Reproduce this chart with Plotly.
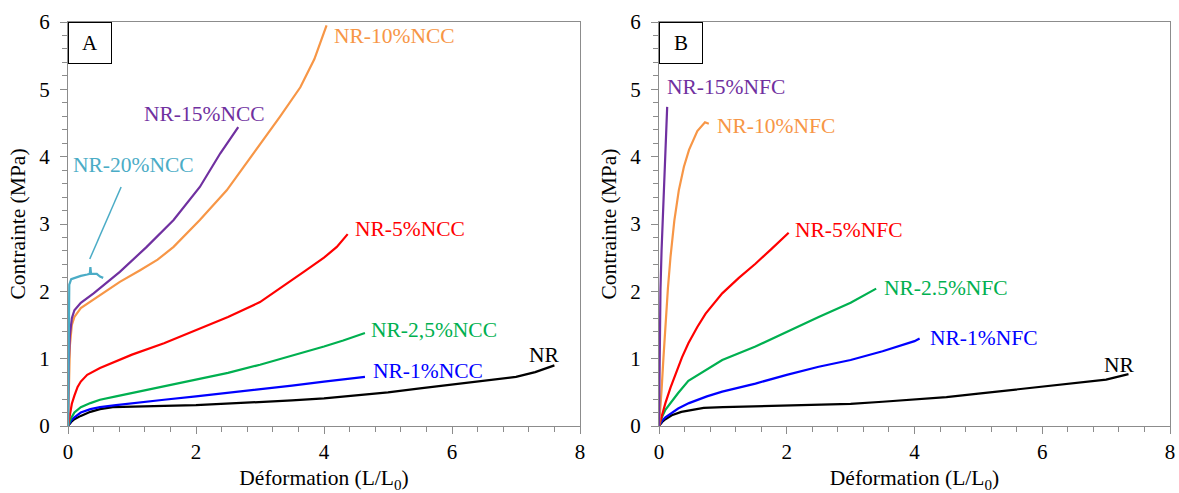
import plotly.graph_objects as go

FONT = "Liberation Serif, Times New Roman, DejaVu Serif, serif"

# ---------------- Panel A (NCC) ----------------
A_NR_x = [0, 0.05, 0.1, 0.2, 0.35, 0.5, 0.7, 1.0, 1.5, 2.0, 2.5, 3.0, 3.5, 4.0, 4.5, 5.0, 5.5, 6.0, 6.5, 7.0, 7.3, 7.6]
A_NR_y = [0, 0.06, 0.1, 0.15, 0.21, 0.25, 0.28, 0.29, 0.3, 0.31, 0.33, 0.35, 0.38, 0.41, 0.45, 0.5, 0.56, 0.62, 0.67, 0.73, 0.8, 0.9]

A_1_x = [0, 0.05, 0.1, 0.2, 0.35, 0.5, 0.75, 1.0, 1.5, 2.0, 2.5, 3.0, 3.5, 4.0, 4.3, 4.64]
A_1_y = [0, 0.08, 0.13, 0.2, 0.25, 0.28, 0.31, 0.34, 0.39, 0.44, 0.49, 0.54, 0.6, 0.66, 0.69, 0.73]

A_25_x = [0, 0.05, 0.1, 0.2, 0.35, 0.5, 0.75, 1.0, 1.5, 2.0, 2.5, 3.0, 3.5, 4.0, 4.3, 4.64]
A_25_y = [0, 0.12, 0.2, 0.28, 0.34, 0.39, 0.44, 0.49, 0.58, 0.68, 0.79, 0.91, 1.04, 1.18, 1.27, 1.38]

A_5_x = [0, 0.03, 0.06, 0.1, 0.15, 0.2, 0.3, 0.5, 0.75, 1.0, 1.5, 2.0, 2.5, 3.0, 3.36, 3.7, 4.0, 4.2, 4.37]
A_5_y = [0, 0.2, 0.33, 0.45, 0.58, 0.66, 0.76, 0.86, 0.96, 1.06, 1.23, 1.42, 1.62, 1.84, 2.07, 2.3, 2.5, 2.66, 2.85]

A_10_x = [0, 0.01, 0.03, 0.06, 0.1, 0.2, 0.4, 0.6, 0.81, 1.12, 1.4, 1.65, 2.06, 2.48, 2.9, 3.31, 3.63, 3.85, 4.04]
A_10_y = [0, 0.6, 1.2, 1.5, 1.62, 1.75, 1.88, 2.0, 2.14, 2.31, 2.47, 2.66, 3.06, 3.5, 4.05, 4.59, 5.03, 5.45, 5.95]

A_15_x = [0, 0.01, 0.03, 0.06, 0.1, 0.2, 0.4, 0.6, 0.81, 1.23, 1.65, 2.06, 2.38, 2.66]
A_15_y = [0, 0.9, 1.35, 1.6, 1.72, 1.83, 1.97, 2.12, 2.29, 2.66, 3.06, 3.55, 4.05, 4.44]

A_20_x = [0, 0.01, 0.02, 0.05, 0.1, 0.2, 0.3, 0.34, 0.35, 0.36, 0.45, 0.5, 0.55]
A_20_y = [0, 1.2, 2.1, 2.18, 2.2, 2.23, 2.25, 2.26, 2.36, 2.26, 2.26, 2.22, 2.2]

A_20_leader_x = [0.34, 0.83]
A_20_leader_y = [2.48, 3.55]

# ---------------- Panel B (NFC) ----------------
B_NR_x = [0, 0.05, 0.1, 0.2, 0.35, 0.5, 0.7, 1.0, 1.5, 2.0, 2.5, 3.0, 3.5, 4.0, 4.5, 5.0, 5.5, 6.0, 6.5, 7.0, 7.35]
B_NR_y = [0, 0.06, 0.1, 0.16, 0.21, 0.24, 0.27, 0.28, 0.29, 0.3, 0.31, 0.33, 0.36, 0.39, 0.43, 0.48, 0.53, 0.59, 0.64, 0.69, 0.77]

B_1_x = [0, 0.05, 0.1, 0.2, 0.3, 0.47, 0.75, 0.99, 1.51, 2.0, 2.29, 2.5, 3.0, 3.5, 4.0, 4.08]
B_1_y = [0, 0.08, 0.13, 0.2, 0.26, 0.34, 0.44, 0.51, 0.63, 0.76, 0.83, 0.88, 0.98, 1.11, 1.26, 1.3]

B_25_x = [0, 0.05, 0.1, 0.2, 0.3, 0.46, 0.75, 0.99, 1.51, 2.0, 2.29, 2.5, 3.0, 3.4]
B_25_y = [0, 0.14, 0.24, 0.37, 0.49, 0.67, 0.84, 0.98, 1.18, 1.4, 1.52, 1.62, 1.83, 2.04]

B_5_x = [0, 0.05, 0.1, 0.18, 0.26, 0.36, 0.46, 0.6, 0.73, 0.99, 1.25, 1.51, 1.75, 2.03]
B_5_y = [0, 0.17, 0.34, 0.57, 0.78, 1.02, 1.23, 1.47, 1.67, 1.97, 2.2, 2.41, 2.62, 2.87]

B_10_x = [0, 0.02, 0.04, 0.07, 0.1, 0.14, 0.18, 0.24, 0.31, 0.39, 0.47, 0.6, 0.72, 0.78]
B_10_y = [0, 0.25, 0.53, 1.02, 1.52, 2.05, 2.51, 3.05, 3.5, 3.85, 4.1, 4.38, 4.51, 4.49]

B_15_x = [0, 0.004, 0.008, 0.015, 0.023, 0.04, 0.06, 0.075, 0.1, 0.12, 0.128]
B_15_y = [0, 0.5, 1.03, 1.55, 2.02, 2.6, 3.1, 3.5, 4.1, 4.58, 4.74]

# colours
C_NR = "#000000"
C_1 = "#0000FF"
C_25 = "#00B050"
C_5 = "#FF0000"
C_10 = "#F79646"
C_15 = "#7030A0"
C_20 = "#4BACC6"

fig = go.Figure()

def line(x, y, color, xa, ya, w=2.2):
    fig.add_trace(go.Scatter(x=x, y=y, mode="lines", line=dict(color=color, width=w),
                             xaxis=xa, yaxis=ya, showlegend=False, hoverinfo="skip"))

line(A_NR_x, A_NR_y, C_NR, "x", "y")
line(A_1_x, A_1_y, C_1, "x", "y")
line(A_25_x, A_25_y, C_25, "x", "y")
line(A_5_x, A_5_y, C_5, "x", "y")
line(A_10_x, A_10_y, C_10, "x", "y")
line(A_15_x, A_15_y, C_15, "x", "y")
line(A_20_x, A_20_y, C_20, "x", "y")
line(A_20_leader_x, A_20_leader_y, C_20, "x", "y", w=1.5)

line(B_NR_x, B_NR_y, C_NR, "x2", "y2")
line(B_1_x, B_1_y, C_1, "x2", "y2")
line(B_25_x, B_25_y, C_25, "x2", "y2")
line(B_5_x, B_5_y, C_5, "x2", "y2")
line(B_10_x, B_10_y, C_10, "x2", "y2")
line(B_15_x, B_15_y, C_15, "x2", "y2")

LBL = 21.5
labels = [
    ("x", "y", 4.12, 5.79, "NR-10%NCC", C_10),
    ("x", "y", 1.15, 4.64, "NR-15%NCC", C_15),
    ("x", "y", 0.05, 3.87, "NR-20%NCC", C_20),
    ("x", "y", 4.46, 2.92, "NR-5%NCC", C_5),
    ("x", "y", 4.70, 1.42, "NR-2,5%NCC", C_25),
    ("x", "y", 4.73, 0.82, "NR-1%NCC", C_1),
    ("x", "y", 7.17, 1.05, "NR", C_NR),
    ("x2", "y2", 0.10, 5.03, "NR-15%NFC", C_15),
    ("x2", "y2", 0.88, 4.45, "NR-10%NFC", C_10),
    ("x2", "y2", 2.10, 2.91, "NR-5%NFC", C_5),
    ("x2", "y2", 3.49, 2.05, "NR-2.5%NFC", C_25),
    ("x2", "y2", 4.21, 1.31, "NR-1%NFC", C_1),
    ("x2", "y2", 6.94, 0.90, "NR", C_NR),
]
for xr, yr, x, y, t, c in labels:
    fig.add_annotation(xref=xr, yref=yr, x=x, y=y, text=t, showarrow=False,
                       xanchor="left", yanchor="middle",
                       font=dict(family=FONT, size=LBL, color=c))

for xr, yr, t in [("x", "y", "A"), ("x2", "y2", "B")]:
    fig.add_annotation(xref=xr, yref=yr, x=0, y=6, text=t, showarrow=False,
                       xanchor="left", yanchor="top", width=40, height=38,
                       bordercolor="#000000", borderwidth=1, bgcolor="#FFFFFF",
                       font=dict(family=FONT, size=21, color="#000000"))

W, H = 1179, 493
xdomA = [68 / W, 580 / W]
xdomB = [659 / W, 1170 / W]
ydom = [1 - 426 / H, 1 - 22 / H]

AX_COLOR = "#8C8C8C"
xcommon = dict(range=[0, 8], dtick=2, tick0=0, showgrid=False, zeroline=False,
               automargin=False, ticklabeloverflow="allow",
               showline=True, linecolor=AX_COLOR, linewidth=1.3, mirror=True,
               ticks="outside", ticklen=7, tickcolor=AX_COLOR, ticklabelstandoff=0,
               minor=dict(dtick=0.4, ticks="outside", ticklen=5, tickcolor=AX_COLOR),
               tickfont=dict(family=FONT, size=21, color="#000000"),
               title=dict(text="Déformation (L/L<sub>0</sub>)", standoff=12,
                          font=dict(family=FONT, size=21.5, color="#000000")))
ycommon = dict(range=[0, 6], dtick=1, tick0=0, showgrid=False, zeroline=False,
               automargin=False, ticklabeloverflow="allow",
               showline=True, linecolor=AX_COLOR, linewidth=1.3, mirror=True,
               ticks="outside", ticklen=7, tickcolor=AX_COLOR, ticklabelstandoff=6,
               minor=dict(dtick=0.2, ticks="outside", ticklen=5, tickcolor=AX_COLOR),
               tickfont=dict(family=FONT, size=21, color="#000000"),
               title=dict(text="Contrainte (MPa)", standoff=7,
                          font=dict(family=FONT, size=21.5, color="#000000")))

fig.update_layout(
    width=W, height=H,
    margin=dict(l=0, r=0, t=0, b=0, autoexpand=False),
    paper_bgcolor="#FFFFFF", plot_bgcolor="#FFFFFF",
    xaxis=dict(domain=xdomA, anchor="y", **xcommon),
    yaxis=dict(domain=ydom, anchor="x", **ycommon),
    xaxis2=dict(domain=xdomB, anchor="y2", **xcommon),
    yaxis2=dict(domain=ydom, anchor="x2", **ycommon),
)

fig.write_html("out.html", config={"displayModeBar": False},
               post_script="document.body.style.margin='0';document.body.style.overflow='hidden';")
